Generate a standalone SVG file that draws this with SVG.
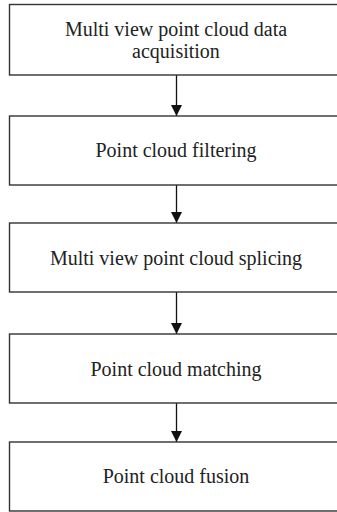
<svg xmlns="http://www.w3.org/2000/svg" width="337" height="512" viewBox="0 0 337 512">
<defs>
<marker id="ah" markerWidth="11" markerHeight="13" refX="11" refY="5.5" orient="auto" markerUnits="userSpaceOnUse">
<path d="M0,0 L11,5.5 L0,11 Z" fill="#111"/>
</marker>
<style>
.box{fill:#fff;stroke:#333;stroke-width:1.4}
.lbl{font-family:"Liberation Serif","Times New Roman",serif;font-size:20px;fill:#222;text-anchor:middle}
.conn{stroke:#111;stroke-width:1.3;fill:none}
</style>
</defs>
<rect width="337" height="512" fill="#fff"/>
<g id="connectors">
<line class="conn" x1="176.5" y1="75" x2="176.5" y2="116" marker-end="url(#ah)"/>
<line class="conn" x1="176.5" y1="185" x2="176.5" y2="223" marker-end="url(#ah)"/>
<line class="conn" x1="176.5" y1="292" x2="176.5" y2="334" marker-end="url(#ah)"/>
<line class="conn" x1="176.5" y1="403" x2="176.5" y2="442" marker-end="url(#ah)"/>
</g>
<g id="n1">
<rect class="box" x="9.5" y="4.5" width="335" height="70.5"/>
<text class="lbl" x="176" y="36">Multi view point cloud data</text>
<text class="lbl" x="176" y="58">acquisition</text>
</g>
<g id="n2">
<rect class="box" x="9.5" y="116" width="335" height="69"/>
<text class="lbl" x="176" y="157">Point cloud filtering</text>
</g>
<g id="n3">
<rect class="box" x="9.5" y="223" width="335" height="69"/>
<text class="lbl" x="176" y="265">Multi view point cloud splicing</text>
</g>
<g id="n4">
<rect class="box" x="9.5" y="334" width="335" height="69"/>
<text class="lbl" x="176" y="375.5">Point cloud matching</text>
</g>
<g id="n5">
<rect class="box" x="9.5" y="442" width="335" height="69"/>
<text class="lbl" x="176" y="483">Point cloud fusion</text>
</g>
</svg>
